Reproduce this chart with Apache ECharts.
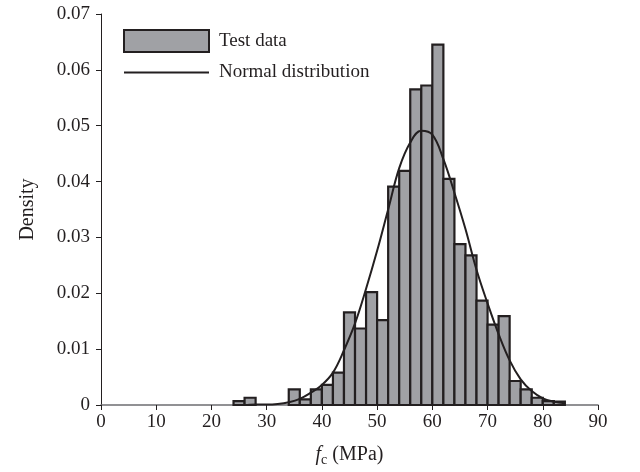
<!DOCTYPE html>
<html>
<head>
<meta charset="utf-8">
<script src="https://cdn.jsdelivr.net/npm/echarts@6/dist/echarts.min.js"></script>
<style>
html,body{margin:0;padding:0;background:#fff;}
#chart{width:640px;height:472px;}
</style>
</head>
<body>
<div id="chart"></div>
<script>
// Histogram bin left edges (MPa), bin width 2
const binStarts = [24,26,28,30,32,34,36,38,40,42,44,46,48,50,52,54,56,58,60,62,64,66,68,70,72,74,76,78,80,82];
const binWidth = 2;
const binDensity = [0.0007,0.0013,0,0,0,0.0028,0.0010,0.0028,0.0036,0.0058,0.0166,0.0137,0.0202,0.0152,0.0391,0.0419,0.0565,0.0572,0.0645,0.0405,0.0288,0.0268,0.0187,0.0144,0.0159,0.0043,0.0028,0.0013,0.0007,0.0006];

// Normal distribution curve
const curveX = [24,26,28,30,32,34,36,38,40,42,44,46,48,50,52,54,56,58,60,62,64,66,68,70,72,74,76,78,80,82,84];
const curveY = [0.0000,0.0000,0.0001,0.0001,0.0002,0.0005,0.0011,0.0022,0.0036,0.0058,0.0098,0.0146,0.0208,0.0276,0.0350,0.0424,0.0470,0.0491,0.0484,0.0440,0.0380,0.0315,0.0242,0.0182,0.0127,0.0080,0.0046,0.0025,0.0012,0.0006,0.0003];

const xTicks = {min:0, max:90, interval:10};
const yTicks = {min:0, max:0.07, interval:0.01};

const FONT = '"Liberation Serif","Times New Roman",serif';
const INK = '#231f20';
const BAR_FILL = '#a0a1a5';

const histData = binStarts.map((s,i)=>[s, s+binWidth, binDensity[i]]);
const curveData = curveX.map((x,i)=>[x, curveY[i]]);

const chart = echarts.init(document.getElementById('chart'));
chart.setOption({
  animation:false,
  backgroundColor:'#fff',
  grid:{left:101, top:14, width:497, height:391},
  legend:{
    orient:'vertical', left:123, top:29, padding:0,
    itemWidth:85, itemHeight:22, itemGap:10,
    symbolKeepAspect:true,
    textStyle:{fontFamily:FONT, fontSize:19, color:INK, padding:[0,0,0,5]},
    data:[
      {name:'Test data', icon:'rect', itemStyle:{color:BAR_FILL, borderColor:INK, borderWidth:2}},
      {name:'Normal distribution', icon:'path://M0,0 L85,0 L85,2 L0,2 Z', itemStyle:{color:INK, borderWidth:0}}
    ]
  },
  xAxis:{
    type:'value', min:xTicks.min, max:xTicks.max, interval:xTicks.interval,
    splitLine:{show:false},
    axisLine:{show:true, onZero:false, lineStyle:{color:'#6d6e71', width:1.5}},
    axisTick:{show:true, length:5, lineStyle:{color:INK, width:1}},
    axisLabel:{fontFamily:FONT, fontSize:19, color:INK, margin:8},
    name:'{i|f}{s|c} (MPa)',
    nameLocation:'middle', nameGap:38,
    nameTextStyle:{
      fontFamily:FONT, fontSize:20, color:INK,
      rich:{
        i:{fontFamily:FONT, fontSize:20, fontStyle:'italic', color:INK},
        s:{fontFamily:FONT, fontSize:14, color:INK, verticalAlign:'bottom', padding:[10,0,0,0]}
      }
    }
  },
  yAxis:{
    type:'value', min:yTicks.min, max:yTicks.max, interval:yTicks.interval,
    splitLine:{show:false},
    axisLine:{show:true, lineStyle:{color:INK, width:1}},
    axisTick:{show:true, length:5, lineStyle:{color:INK, width:1}},
    axisLabel:{fontFamily:FONT, fontSize:19, color:INK, margin:11,
      formatter:v=> v===0 ? '0' : v.toFixed(2)},
    name:'Density', nameLocation:'middle', nameGap:63,
    nameTextStyle:{fontFamily:FONT, fontSize:20, color:INK}
  },
  series:[
    {
      name:'Test data', type:'custom',
      itemStyle:{color:BAR_FILL, borderColor:INK, borderWidth:2},
      encode:{x:[0,1], y:2},
      data:histData,
      renderItem:function(params, api){
        const x0 = api.value(0), x1 = api.value(1), h = api.value(2);
        if(!h) return null;
        const p0 = api.coord([x0, 0]);
        const p1 = api.coord([x1, h]);
        return {
          type:'rect',
          shape:{x:p0[0], y:p1[1], width:p1[0]-p0[0], height:p0[1]-p1[1]},
          style:{fill:BAR_FILL, stroke:INK, lineWidth:2.2}
        };
      },
      z:2
    },
    {
      name:'Normal distribution', type:'line',
      data:curveData, smooth:0.4, symbol:'none',
      lineStyle:{color:INK, width:2},
      itemStyle:{color:INK},
      z:3
    }
  ]
});
</script>
</body>
</html>
